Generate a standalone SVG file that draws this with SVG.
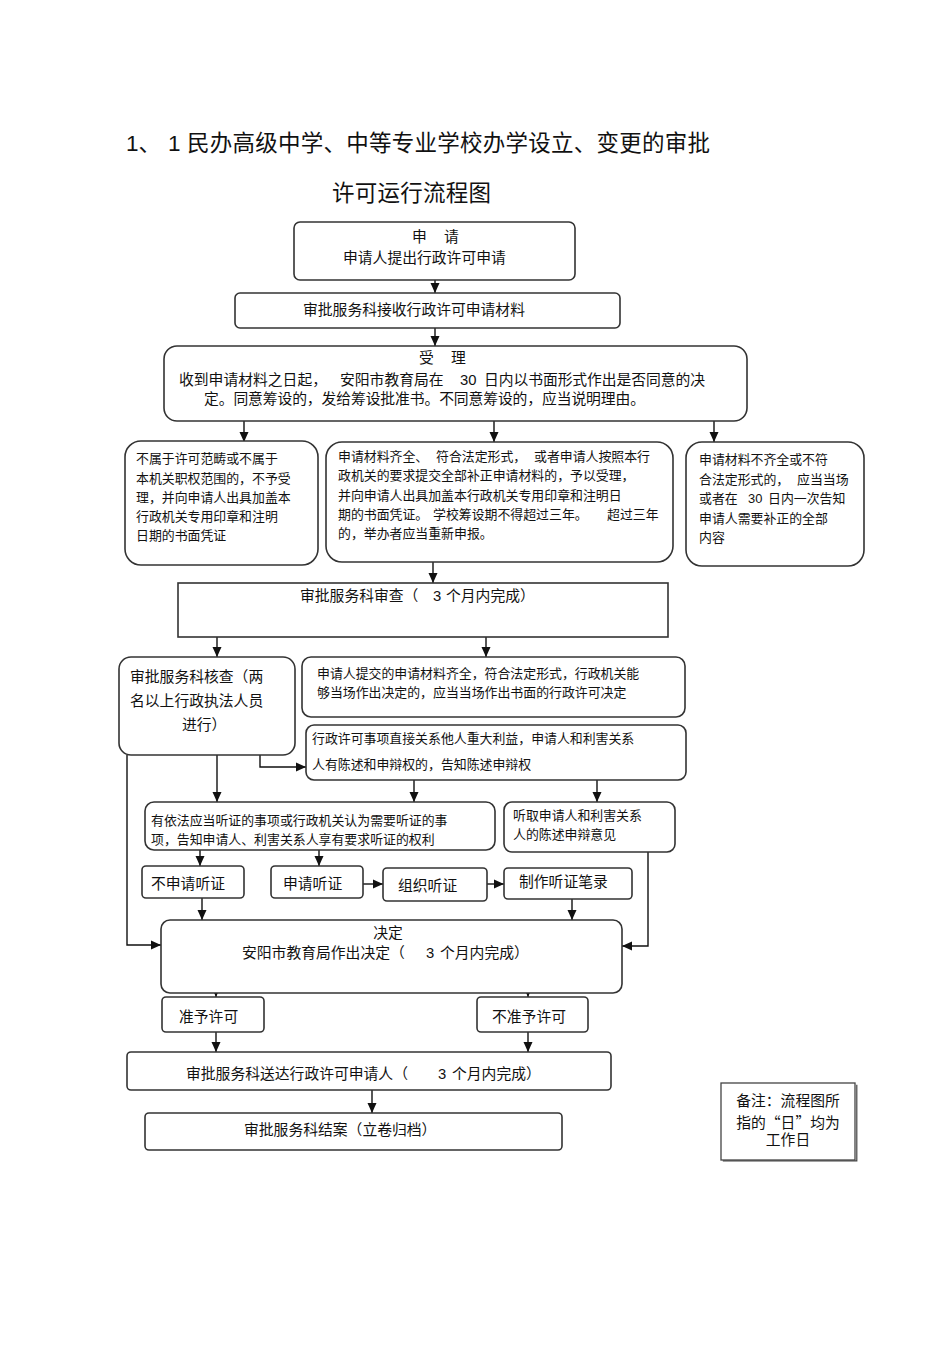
<svg xmlns="http://www.w3.org/2000/svg" width="950" height="1345" viewBox="0 0 950 1345" xml:space="preserve">
<defs>
<marker id="ah" markerUnits="userSpaceOnUse" markerWidth="10" markerHeight="10" viewBox="0 0 10 10" refX="10" refY="5" orient="auto">
<path d="M0,0.5 L10,5 L0,9.5 z" fill="#111"/>
</marker>
<style>
.b{fill:#fff;stroke:#333;stroke-width:1.6}
.c{fill:none;stroke:#111;stroke-width:1.4}
.a{marker-end:url(#ah)}
text{font-family:"Liberation Sans","Noto Sans CJK SC",sans-serif;fill:#111;dominant-baseline:central}
.cjk{font-family:"Noto Sans CJK SC",sans-serif}
.t22{font-size:22.5px}
.t15{font-size:14.8px}
.t13{font-size:12.9px}
.m{text-anchor:middle}
</style>
</defs>
<rect width="950" height="1345" fill="#fff"/>
<g id="title">
<text class="t22" y="143"><tspan x="126">1、</tspan><tspan x="168">1</tspan><tspan x="187" textLength="523">民办高级中学、中等专业学校办学设立、变更的审批</tspan></text>
<text class="t22" x="332" y="193" textLength="159">许可运行流程图</text>
</g>
<g id="connectors">
<path class="c a" d="M435,280 V293"/>
<path class="c a" d="M435,328 V346"/>
<path class="c a" d="M244,421 V442"/>
<path class="c a" d="M494,421 V442"/>
<path class="c a" d="M714,421 V442"/>
<path class="c a" d="M433,562 V583"/>
<path class="c a" d="M217,637 V657"/>
<path class="c a" d="M486,637 V657"/>
<path class="c a" d="M127,755 V945 H161"/>
<path class="c a" d="M217,755 V802"/>
<path class="c a" d="M260,755 V767 H306"/>
<path class="c a" d="M414,780 V802"/>
<path class="c a" d="M597,780 V802"/>
<path class="c a" d="M200,850 V866"/>
<path class="c a" d="M319,850 V866"/>
<path class="c a" d="M363,884 H383"/>
<path class="c a" d="M487,884 H504"/>
<path class="c a" d="M202,898 V920"/>
<path class="c a" d="M572,899 V920"/>
<path class="c a" d="M648,852 V946 H622"/>
<path class="c a" d="M216,969 V997"/>
<path class="c a" d="M528,969 V997"/>
<path class="c a" d="M216,1032 V1052"/>
<path class="c a" d="M528,1032 V1052"/>
<path class="c a" d="M372,1090 V1113"/>
</g>
<g id="n1">
<rect class="b" x="294" y="222" width="281" height="58" rx="6"/>
<text class="t15" y="237"><tspan x="412">申</tspan><tspan x="444">请</tspan></text>
<text class="t15" x="343" y="258">申请人提出行政许可申请</text>
</g>
<g id="n2">
<rect class="b" x="235" y="293" width="385" height="35" rx="5"/>
<text class="t15" x="303" y="310">审批服务科接收行政许可申请材料</text>
</g>
<g id="n3">
<rect class="b" x="164" y="346" width="583" height="75" rx="13"/>
<text class="t15" y="358"><tspan x="419">受</tspan><tspan x="451">理</tspan></text>
<text class="t15" y="380"><tspan x="179">收到申请材料之日起，</tspan><tspan x="340">安阳市教育局在</tspan><tspan x="460">30</tspan><tspan x="484" textLength="221">日内以书面形式作出是否同意的决</tspan></text>
<text class="t15" x="204" y="399" textLength="441">定。同意筹设的，发给筹设批准书。不同意筹设的，应当说明理由。</text>
</g>
<g id="n4a">
<rect class="b" x="125" y="441" width="193" height="124" rx="16"/>
<text class="t13" x="136" y="458">不属于许可范畴或不属于</text>
<text class="t13" x="136" y="478">本机关职权范围的，不予受</text>
<text class="t13" x="136" y="497">理，并向申请人出具加盖本</text>
<text class="t13" x="136" y="516">行政机关专用印章和注明</text>
<text class="t13" x="136" y="535">日期的书面凭证</text>
</g>
<g id="n4b">
<rect class="b" x="326" y="442" width="347" height="120" rx="16"/>
<text class="t13" y="456"><tspan x="338">申请材料齐全、</tspan><tspan x="436">符合法定形式，</tspan><tspan x="534">或者申请人按照本行</tspan></text>
<text class="t13" x="338" y="475">政机关的要求提交全部补正申请材料的，予以受理，</text>
<text class="t13" x="338" y="495">并向申请人出具加盖本行政机关专用印章和注明日</text>
<text class="t13" y="514"><tspan x="338">期的书面凭证。</tspan><tspan x="433">学校筹设期不得超过三年。</tspan><tspan x="607">超过三年</tspan></text>
<text class="t13" x="338" y="533">的，举办者应当重新申报。</text>
</g>
<g id="n4c">
<rect class="b" x="686" y="442" width="178" height="124" rx="16"/>
<text class="t13" x="699" y="459">申请材料不齐全或不符</text>
<text class="t13" y="479"><tspan x="699">合法定形式的，</tspan><tspan x="797">应当当场</tspan></text>
<text class="t13" y="498"><tspan x="699">或者在</tspan><tspan x="748">30</tspan><tspan x="768">日内一次告知</tspan></text>
<text class="t13" x="699" y="518">申请人需要补正的全部</text>
<text class="t13" x="699" y="537">内容</text>
</g>
<g id="n5">
<rect class="b" x="178" y="583" width="490" height="54"/>
<text class="t15" y="596"><tspan x="300">审批服务科审查（</tspan><tspan x="433">3</tspan><tspan x="446">个月内完成）</tspan></text>
</g>
<g id="n6a">
<rect class="b" x="119" y="657" width="176" height="98" rx="12"/>
<text class="t15" x="130" y="677">审批服务科核查（两</text>
<text class="t15" x="130" y="701">名以上行政执法人员</text>
<text class="t15" x="182" y="725">进行）</text>
</g>
<g id="n6b">
<rect class="b" x="302" y="657" width="383" height="60" rx="9"/>
<text class="t13" x="317" y="673">申请人提交的申请材料齐全，符合法定形式，行政机关能</text>
<text class="t13" x="317" y="692">够当场作出决定的，应当当场作出书面的行政许可决定</text>
</g>
<g id="n7">
<rect class="b" x="306" y="725" width="380" height="55" rx="8"/>
<text class="t13" x="312" y="738">行政许可事项直接关系他人重大利益，申请人和利害关系</text>
<text class="t13" x="312" y="764">人有陈述和申辩权的，告知陈述申辩权</text>
</g>
<g id="n8">
<rect class="b" x="145" y="802" width="350" height="48" rx="9"/>
<text class="t13" x="151" y="820">有依法应当听证的事项或行政机关认为需要听证的事</text>
<text class="t13" x="151" y="839">项，告知申请人、利害关系人享有要求听证的权利</text>
</g>
<g id="n8b">
<rect class="b" x="504" y="802" width="171" height="50" rx="8"/>
<text class="t13" x="513" y="815">听取申请人和利害关系</text>
<text class="t13" x="513" y="834">人的陈述申辩意见</text>
</g>
<g id="n9a">
<rect class="b" x="142" y="866" width="102" height="32" rx="4"/>
<text class="t15" x="151" y="884">不申请听证</text>
</g>
<g id="n9b">
<rect class="b" x="271" y="866" width="92" height="32" rx="4"/>
<text class="t15" x="283" y="884">申请听证</text>
</g>
<g id="n9c">
<rect class="b" x="383" y="868" width="104" height="33" rx="4"/>
<text class="t15" x="398" y="886">组织听证</text>
</g>
<g id="n9d">
<rect class="b" x="504" y="868" width="128" height="31" rx="4"/>
<text class="t15" x="519" y="882">制作听证笔录</text>
</g>
<g id="n10">
<rect class="b" x="161" y="920" width="461" height="73" rx="9"/>
<text class="t15 m" x="388" y="933">决定</text>
<text class="t15" y="953"><tspan x="242">安阳市教育局作出决定（</tspan><tspan x="426">3</tspan><tspan x="440">个月内完成）</tspan></text>
</g>
<g id="n11a">
<rect class="b" x="162" y="997" width="102" height="35" rx="4"/>
<text class="t15" x="179" y="1017">准予许可</text>
</g>
<g id="n11b">
<rect class="b" x="477" y="997" width="111" height="35" rx="4"/>
<text class="t15" x="492" y="1017">不准予许可</text>
</g>
<g id="n12">
<rect class="b" x="127" y="1052" width="484" height="38" rx="4"/>
<text class="t15" y="1074"><tspan x="186">审批服务科送达行政许可申请人（</tspan><tspan x="438">3</tspan><tspan x="452">个月内完成）</tspan></text>
</g>
<g id="n13">
<rect class="b" x="145" y="1113" width="417" height="37" rx="4"/>
<text class="t15" x="244" y="1130">审批服务科结案（立卷归档）</text>
</g>
<g id="note">
<rect x="721" y="1083" width="134" height="77" fill="#fff" stroke="#444" stroke-width="1.3"/>
<path d="M722,1160 H856 V1084" fill="none" stroke="#444" stroke-width="1.2" transform="translate(0.8,0.8)"/>
<text class="t15 m" x="788" y="1101">备注：流程图所</text>
<text class="t15 m cjk" x="788" y="1121">指的“日”均为</text>
<text class="t15 m" x="788" y="1140">工作日</text>
</g>
</svg>
